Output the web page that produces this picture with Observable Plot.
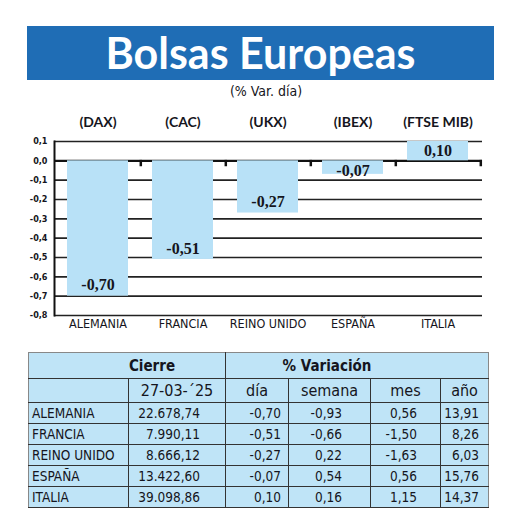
<!DOCTYPE html>
<html>
<head>
<meta charset="utf-8">
<script src="https://cdn.jsdelivr.net/npm/d3@7"></script>
<script src="https://cdn.jsdelivr.net/npm/@observablehq/plot@0.6"></script>
<style>
  html, body { margin: 0; padding: 0; background: #fff; }
  body { width: 520px; height: 531px; position: relative; overflow: hidden; color: #151520; }
  #banner { position: absolute; left: 27px; top: 26px; width: 467px; height: 54px; background: #1f6db5;
    color: #fff; font-family: Lato, sans-serif; font-weight: 700; font-size: 43px; text-align: center; line-height: 54px; }
  #sub { position: absolute; left: 12px; width: 508px; top: 83px; text-align: center; font-family: "DejaVu Sans Condensed", sans-serif; font-size: 14px; }
  #chart { position: absolute; left: 0; top: 110px; }
  table { position: absolute; left: 28px; top: 352px; width: 460px; border-collapse: collapse; table-layout: fixed;
    background: #bfe4f7; font-family: "DejaVu Sans Condensed", sans-serif; color: #151520; border: 1px solid #888; }
  td, th { padding: 0; overflow: hidden; white-space: nowrap; }
  th { font-weight: 700; font-size: 15px; height: 25px; border-bottom: 1.5px solid #333; }
  tr.h2 td { font-size: 16px; height: 23px; text-align: center; border-bottom: 1.5px solid #333; }
  tr.d td { font-size: 13.5px; height: 20px; border-bottom: 1.5px solid #333; text-align: right; }
  tr.d td.n { text-align: left; padding-left: 3px; }
  .vl { border-left: 1.5px solid #333; }
</style>
</head>
<body>
<div id="banner">Bolsas Europeas</div>
<div id="sub">(% Var. día)</div>
<div id="chart"></div>
<table id="tbl"></table>
<script>
const paises = ["ALEMANIA", "FRANCIA", "REINO UNIDO", "ESPAÑA", "ITALIA"];
const indices = ["(DAX)", "(CAC)", "(UKX)", "(IBEX)", "(FTSE MIB)"];
const dia = [-0.70, -0.51, -0.27, -0.07, 0.10];
const cierre = [22678.74, 7990.11, 8666.12, 13422.60, 39098.86];
const semana = [-0.93, -0.66, 0.22, 0.54, 0.16];
const mes = [0.56, -1.50, -1.63, 0.56, 1.15];
const anio = [13.91, 8.26, 6.03, 15.76, 14.37];
const yTicks = [0.1, 0, -0.1, -0.2, -0.3, -0.4, -0.5, -0.6, -0.7, -0.8];
const fecha = "27-03-´25";

const data = paises.map((p, i) => ({pais: p, indice: indices[i], dia: dia[i]}));
const comma = v => v.toFixed(1).replace(".", ",");
const comma2 = v => v.toFixed(2).replace(".", ",");
const narrow = "'DejaVu Sans Condensed', sans-serif";
const serif = "'Liberation Serif', serif";

const chart = Plot.plot({
  width: 520,
  height: 230,
  marginLeft: 54,
  marginRight: 38,
  marginTop: 31,
  marginBottom: 25,
  style: {fontFamily: narrow, color: "#151520", background: "transparent"},
  x: {domain: paises, paddingInner: 0.28, paddingOuter: 0.14, label: null},
  y: {domain: [-0.8, 0.1], label: null},
  marks: [
    Plot.ruleY(yTicks, {stroke: "#222", strokeWidth: 1.6}),
    Plot.ruleY([0], {stroke: "#111", strokeWidth: 2.4}),
    Plot.barY(data, {x: "pais", y: "dia", fill: "#b8e1f7"}),
    Plot.link(data, {x1: "pais", x2: "pais", y1: d => 0.005, y2: d => -0.028, dx: 42.8, stroke: "#111", strokeWidth: 2.5}),
    Plot.frame({anchor: "left", stroke: "#111", strokeWidth: 2}),
    Plot.text(data.filter(d => d.dia <= -0.1), {x: "pais", y: "dia", text: d => comma2(d.dia), dy: -11,
      fontFamily: serif, fontWeight: 700, fontSize: 16, fill: "#151520"}),
    Plot.text(data.filter(d => d.dia < 0 && d.dia > -0.1), {x: "pais", y: "dia", text: d => comma2(d.dia), dy: -3,
      fontFamily: serif, fontWeight: 700, fontSize: 16, fill: "#151520"}),
    Plot.text(data.filter(d => d.dia > 0), {x: "pais", y: "dia", text: d => comma2(d.dia), dy: 9,
      fontFamily: serif, fontWeight: 700, fontSize: 16, fill: "#151520"}),
    Plot.axisY({ticks: yTicks, tickSize: 0, tickPadding: 7, tickFormat: comma, fontSize: 9, fontWeight: 700}),
    Plot.axisX({anchor: "top", tickSize: 0, tickPadding: 15, tickFormat: d => indices[paises.indexOf(d)],
      fontFamily: "Lato, sans-serif", fontWeight: 700, fontSize: 14}),
    Plot.axisX({anchor: "bottom", tickSize: 0, tickPadding: 4, fontSize: 12.5})
  ]
});
document.getElementById("chart").appendChild(chart);

const fmt = d3.formatLocale({decimal: ",", thousands: ".", grouping: [3], currency: ["", ""]}).format(",.2f");
const tbl = document.getElementById("tbl");
let html = `<colgroup><col style="width:100px"><col style="width:97px"><col style="width:63px"><col style="width:82px"><col style="width:70px"><col style="width:48px"></colgroup>`;
html += `<tr><th colspan="2" style="padding-left:50px">Cierre</th><th colspan="4" class="vl" style="padding-right:60px">% Variación</th></tr>`;
html += `<tr class="h2"><td></td><td class="vl">${fecha}</td><td class="vl">día</td><td class="vl">semana</td><td class="vl">mes</td><td class="vl">año</td></tr>`;
paises.forEach((p, i) => {
  html += `<tr class="d"><td class="n">${p}</td>` +
    `<td class="vl" style="padding-right:25px">${fmt(cierre[i])}</td>` +
    `<td class="vl" style="padding-right:7px">${comma2(dia[i])}</td>` +
    `<td class="vl" style="padding-right:28px">${comma2(semana[i])}</td>` +
    `<td class="vl" style="padding-right:23px">${comma2(mes[i])}</td>` +
    `<td class="vl" style="padding-right:9px">${comma2(anio[i])}</td></tr>`;
});
tbl.innerHTML = html;
</script>
</body>
</html>
